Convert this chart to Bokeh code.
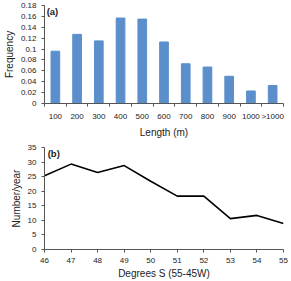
from bokeh.plotting import figure
from bokeh.layouts import column
from bokeh.models import FixedTicker, Range1d, CustomJSTickFormatter, Label
from bokeh.embed import file_html
from bokeh.resources import INLINE

categories = ["100", "200", "300", "400", "500", "600", "700", "800", "900", "1000", ">1000"]
frequency = [0.096, 0.127, 0.115, 0.157, 0.155, 0.113, 0.073, 0.067, 0.050, 0.023, 0.033]

degrees = [46, 47, 48, 49, 50, 51, 52, 53, 54, 55]
number_per_year = [25.3, 29.3, 26.4, 28.8, 23.4, 18.3, 18.3, 10.6, 11.7, 8.9]

FONT = "Liberation Sans"
AXIS_COLOR = "#555555"
TEXT_COLOR = "#222222"

def style(p):
    p.outline_line_color = None
    p.xgrid.visible = False
    p.ygrid.visible = False
    p.background_fill_color = "white"
    p.border_fill_color = "white"
    for ax in (p.xaxis[0], p.yaxis[0]):
        ax.axis_line_color = AXIS_COLOR
        ax.major_tick_line_color = AXIS_COLOR
        ax.minor_tick_line_color = AXIS_COLOR
        ax.major_label_text_font = FONT
        ax.major_label_text_font_size = "8px"
        ax.major_label_text_color = TEXT_COLOR
        ax.axis_label_text_font = FONT
        ax.axis_label_text_font_size = "10px"
        ax.axis_label_text_font_style = "normal"
        ax.axis_label_text_color = TEXT_COLOR
        ax.major_tick_in = 0
        ax.major_tick_out = 3
        ax.minor_tick_in = 0
        ax.minor_tick_out = 0

# ---- (a) bar chart
xs = list(range(1, len(categories) + 1))
p1 = figure(width=291, height=140, output_backend="svg", toolbar_location=None,
            x_range=Range1d(0.5, len(categories) + 0.5), y_range=Range1d(0, 0.18),
            min_border_left=37, min_border_right=8, min_border_top=5, min_border_bottom=31)
p1.vbar(x=xs, top=frequency, width=0.4, color="#5B8FCB")
style(p1)
p1.xaxis.ticker = FixedTicker(ticks=xs, minor_ticks=[x - 0.5 for x in xs] + [len(xs) + 0.5])
p1.xaxis.major_label_overrides = {x: c for x, c in zip(xs, categories)}
p1.xaxis.major_tick_out = 0
p1.xaxis.minor_tick_out = 3
p1.xaxis.axis_label = "Length (m)"
p1.xaxis.axis_label_standoff = 3
p1.yaxis.ticker = FixedTicker(ticks=[i * 0.02 for i in range(10)])
p1.yaxis.formatter = CustomJSTickFormatter(
    code="var s = tick.toFixed(2).replace(/0+$/, ''); return s.replace(/\\.$/, '');")
p1.yaxis.axis_label = "Frequency"
p1.yaxis.axis_label_standoff = 3
p1.add_layout(Label(x=0.6, y=0.18, text="(a)", text_font=FONT, text_font_size="9.5px",
                    text_font_style="bold", text_baseline="top", text_color=TEXT_COLOR))

# ---- (b) line chart
p2 = figure(width=291, height=141, output_backend="svg", toolbar_location=None,
            x_range=Range1d(46, 55), y_range=Range1d(0, 35),
            min_border_left=36, min_border_right=8, min_border_top=7, min_border_bottom=28)
p2.line(degrees, number_per_year, line_color="black", line_width=1.6)
style(p2)
p2.xaxis.ticker = FixedTicker(ticks=degrees)
p2.xaxis.axis_label = "Degrees S (55-45W)"
p2.xaxis.axis_label_standoff = 2
p2.yaxis.ticker = FixedTicker(ticks=list(range(0, 36, 5)))
p2.yaxis.axis_label = "Number/year"
p2.yaxis.axis_label_standoff = 3
p2.add_layout(Label(x=46.12, y=35, text="(b)", text_font=FONT, text_font_size="9.5px",
                    text_font_style="bold", text_baseline="top", text_color=TEXT_COLOR))

layout = column(p1, p2, spacing=0)

open("out.html", "w").write(file_html(layout, INLINE))
